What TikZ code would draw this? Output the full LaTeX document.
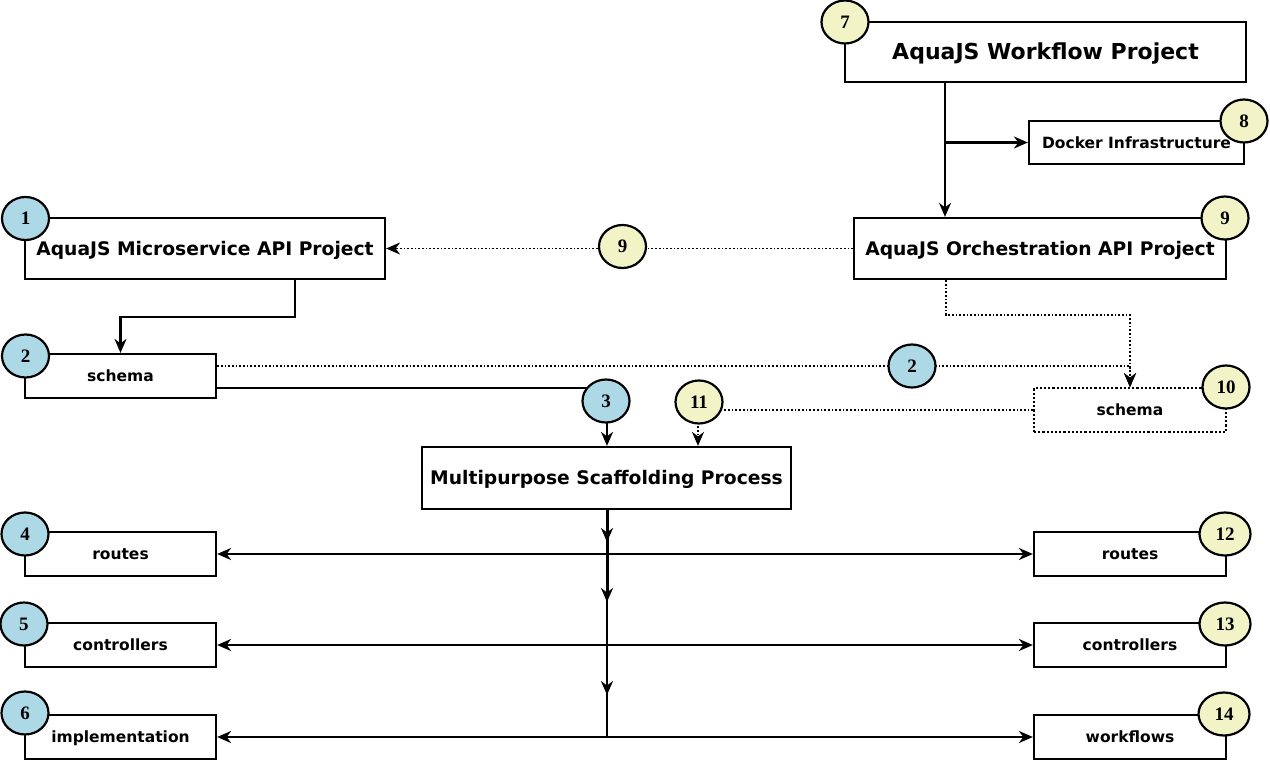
\documentclass[tikz,border=0pt]{standalone}
\usepackage{fontspec}
\setmainfont{DejaVu Sans}
\newfontfamily\numfont{Liberation Serif}
\usetikzlibrary{shapes.geometric,arrows.meta}
\definecolor{cblue}{HTML}{ADD8E6}
\definecolor{cyellow}{HTML}{F3F3C8}
\tikzset{
  box/.style={draw, line width=2.2pt, fill=white, inner sep=0pt, font=\bfseries},
  dotbox/.style={box, dotted, line width=1.7pt},
  small/.style={font=\bfseries\fontsize{15.5}{15.5}\selectfont, text height=11.3pt, text depth=0pt},
  mid/.style={font=\bfseries\fontsize{18.7}{18.7}\selectfont, text height=13.6pt, text depth=0pt},
  big/.style={font=\bfseries\fontsize{22}{22}\selectfont, text height=16pt, text depth=0pt},
  num/.style={ellipse, draw, line width=2.2pt, minimum width=47pt, minimum height=43pt, inner sep=0pt, text height=12.5pt, text depth=0pt, font=\numfont\bfseries\fontsize{19}{19}\selectfont},
  nb/.style={num, fill=cblue},
  ny/.style={num, fill=cyellow},
  arr/.style={line width=2.2pt, -{Stealth[length=14pt,width=12pt,inset=4.5pt]}},
  darr/.style={line width=2.2pt, {Stealth[length=14pt,width=12pt,inset=4.5pt]}-{Stealth[length=14pt,width=12pt,inset=4.5pt]}},
  dotarr/.style={line width=1.7pt, dotted, -{Stealth[length=14pt,width=12pt,inset=4.5pt]}},
  plain/.style={line width=2.2pt},
}
\begin{document}
\begin{tikzpicture}[x=1pt,y=-1pt]
\useasboundingbox (0,0) rectangle (1270,760);
% boxes
\node[box, big, minimum width=401pt, minimum height=60pt] (wf) at (1045.5,52) {AquaJS Workflow Project};
\node[box, small, minimum width=215pt, minimum height=43pt] (docker) at (1136.5,142.5) {Docker Infrastructure};
\node[box, mid, minimum width=372pt, minimum height=61pt] (orch) at (1040,248.5) {AquaJS Orchestration API Project};
\node[box, mid, minimum width=360pt, minimum height=61pt] (micro) at (205,248.5) {AquaJS Microservice API Project};
\node[box, small, minimum width=191pt, minimum height=44pt] (schemaL) at (120.5,376) {schema};
\node[dotbox, small, minimum width=192pt, minimum height=44pt] (schemaR) at (1130,410) {schema};
\node[box, mid, minimum width=369pt, minimum height=62pt] (scaf) at (606.5,478) {Multipurpose Scaffolding Process};
\node[box, small, minimum width=191pt, minimum height=44pt] (routesL) at (120.5,554) {routes};
\node[box, small, minimum width=191pt, minimum height=44pt] (ctrlL) at (120.5,645) {controllers};
\node[box, small, minimum width=191pt, minimum height=44pt] (implL) at (120.5,737) {implementation};
\node[box, small, minimum width=192pt, minimum height=44pt] (routesR) at (1130,554) {routes};
\node[box, small, minimum width=192pt, minimum height=44pt] (ctrlR) at (1130,645) {controllers};
\node[box, small, minimum width=192pt, minimum height=44pt] (wfR) at (1130,737) {workflows};

% connectors
\coordinate (wfb) at (945,82);
\draw[arr] (wfb) -- (orch.north -| wfb);
\draw[arr] (wfb) |- (docker.west);
\draw[dotarr] (orch.west) -- (micro.east);
\draw[arr] (micro.south -| 295,0) -- (295,317) -| (schemaL.north);
\draw[dotarr] (schemaL.east |- 0,366) -| (schemaR.north);
\draw[dotarr] (orch.south -| 946,0) -- (946,315) -| (schemaR.north);
\draw[arr] (schemaL.east |- 0,388) -| (scaf.north -| 607,0);
\draw[dotarr] (schemaR.west) -| (scaf.north -| 698,0);
\coordinate (s0) at (607,509);
\coordinate (s1) at (607,542);
\coordinate (s2) at (607,602);
\coordinate (s3) at (607,695);
\coordinate (s4) at (607,737);
\draw[plain] (s0) -- (s4);
\draw[arr, line width=3pt] (s0) -- (s1);
\draw[arr, line width=3pt] (s0) -- (s2);
\draw[arr] (s0) -- (s3);
\draw[darr] (routesL.east) -- (routesR.west);
\draw[darr] (ctrlL.east) -- (ctrlR.west);
\draw[darr] (implL.east) -- (wfR.west);

% number circles
\node[ny] (c7) at (845,22) {7};
\node[ny] (c8) at (1244,121) {8};
\node[ny] (c9a) at (1225,218) {9};
\node[nb] (c1) at (25.5,218.5) {1};
\node[ny] (c9b) at (622.5,246.5) {9};
\node[nb] (c2a) at (25.5,356) {2};
\node[nb] (c2b) at (912,366) {2};
\node[ny] (c10) at (1226,387) {10};
\node[nb] (c3) at (606,401) {3};
\node[ny] (c11) at (699,402) {11};
\node[nb] (c4) at (25,534) {4};
\node[nb] (c5) at (24,624) {5};
\node[nb] (c6) at (25,713) {6};
\node[ny, minimum width=51pt] (c12) at (1225,534) {12};
\node[ny, minimum width=51pt] (c13) at (1225,624) {13};
\node[ny, minimum width=51pt] (c14) at (1224,714) {14};
\end{tikzpicture}
\end{document}
